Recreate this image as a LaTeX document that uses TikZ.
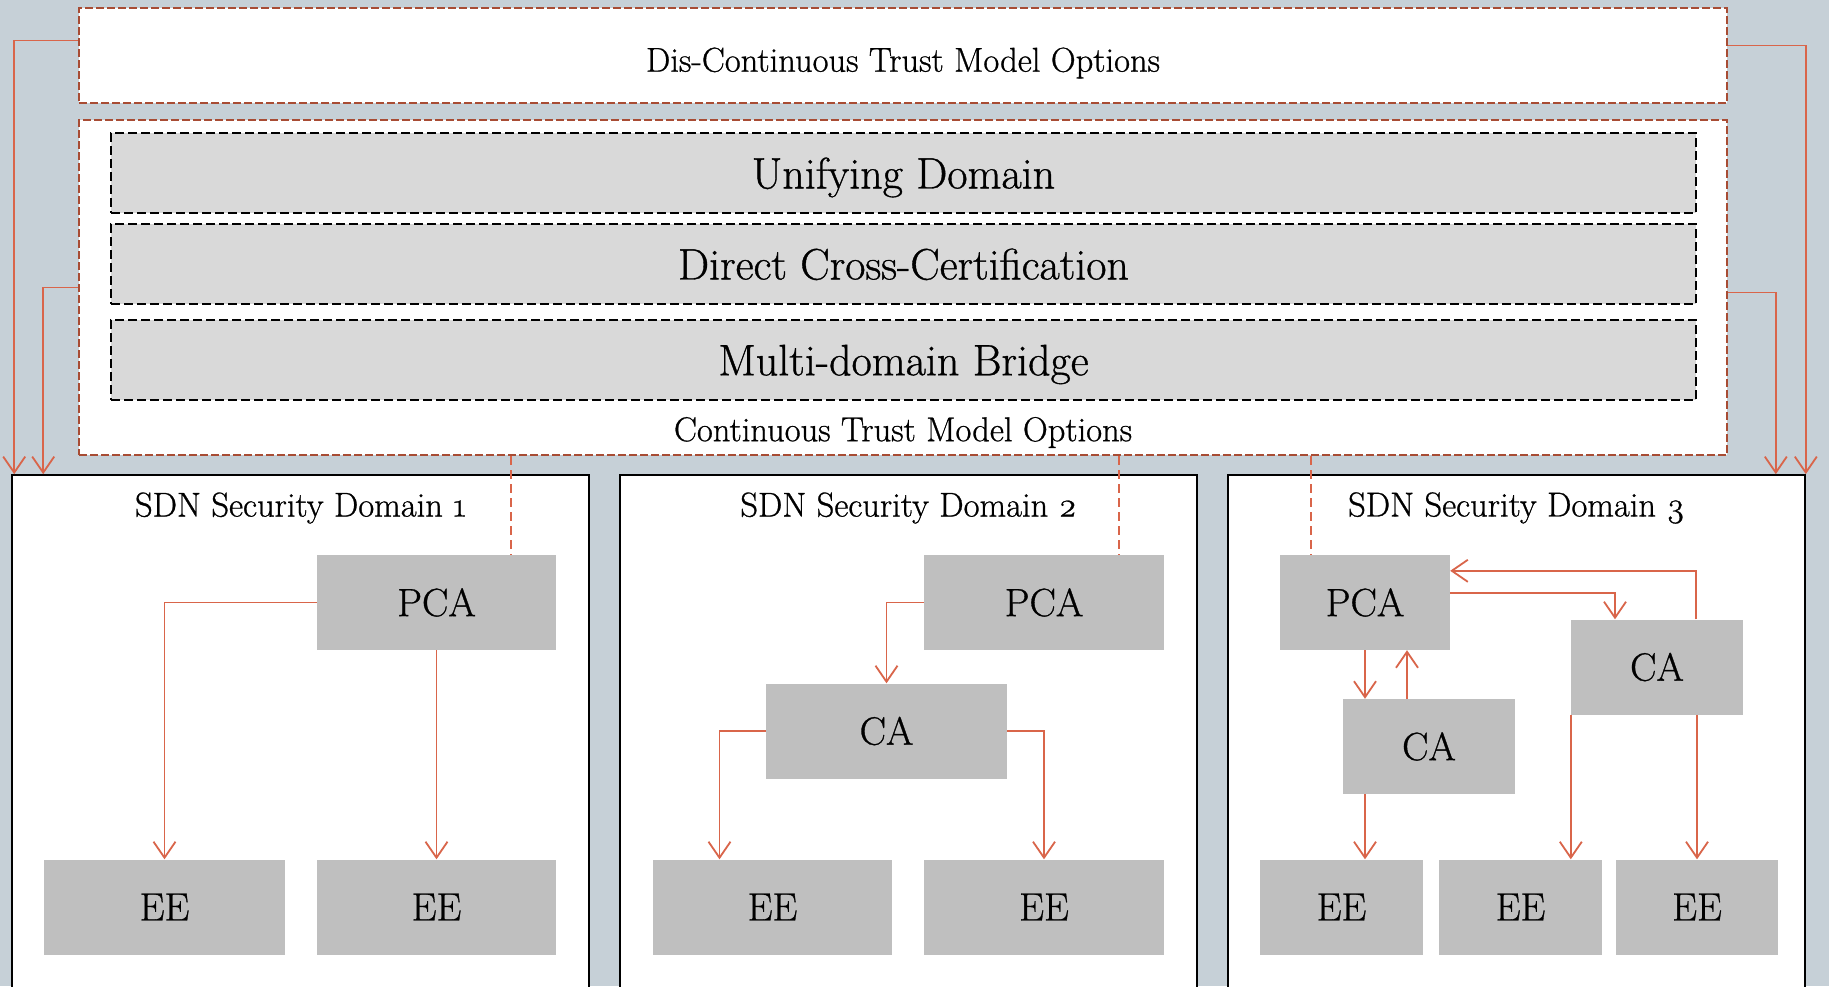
\documentclass[tikz,border=0pt]{standalone}
\usepackage{fontspec}
\setmainfont{Latin Modern Roman}[FakeBold=0.8]
\newfontfamily\oldnum{Latin Modern Roman}[Numbers=OldStyle, FakeBold=0.8]
\usepackage{tikz}
\usetikzlibrary{arrows.meta, calc}

\definecolor{bgblue}{RGB}{198,208,215}
\definecolor{boxred}{RGB}{168,76,52}
\definecolor{linkred}{RGB}{217,101,74}
\definecolor{layergrey}{RGB}{217,217,217}
\definecolor{nodegrey}{RGB}{191,191,191}

\tikzset{
    optbox/.style={draw=boxred, line width=2pt, dash pattern=on 8pt off 3pt, fill=white, inner sep=0pt, minimum width=1648pt},
    layer/.style={draw=black, line width=2pt, dash pattern=on 9pt off 4pt, fill=layergrey, inner sep=0pt, text depth=0pt,
        minimum width=1585pt, minimum height=80pt, font=\fontsize{44}{48}\selectfont},
    sdnbox/.style={draw=black, line width=1.6pt, fill=white, inner sep=0pt, minimum width=577pt, minimum height=560pt},
    cert/.style={fill=nodegrey, inner sep=0pt, minimum height=95pt, font=\fontsize{39.5}{44}\selectfont},
    caption/.style={inner sep=0pt, font=\fontsize{34.5}{38}\selectfont},
    link/.style={draw=linkred, line width=1.8pt, -{Straight Barb[length=16pt,width=22pt]}},
    dlink/.style={draw=linkred, line width=1.8pt, dash pattern=on 9pt off 5pt}
}

\begin{document}
\begin{tikzpicture}[x=1pt, y=-1pt]
    \fill[bgblue] (0,0) rectangle (1829,986);
    \useasboundingbox (0,0) rectangle (1829,986);
    \clip (0,0) rectangle (1829,986);

    \node[optbox, minimum height=95pt] (dis) at (903,55.5) {};
    \node[caption] (distext) at (903,63) {Dis-Continuous Trust Model Options};
    \node[optbox, minimum height=335pt] (cont) at (903,287.5) {};
    \node[layer] (unify) at (903.5,173) {Unifying Domain};
    \node[layer] (cross) at (903.5,264) {Direct Cross-Certification};
    \node[layer] (bridge) at (903.5,360) {Multi-domain Bridge};
    \node[caption] (conttext) at (903,432.5) {Continuous Trust Model Options};

    \node[sdnbox] (dom1) at (300.5,755) {};
    \node[sdnbox] (dom2) at (908.5,755) {};
    \node[sdnbox] (dom3) at (1516.5,755) {};
    \node[caption] (title1) at (300.5,508) {SDN Security Domain {\oldnum 1}};
    \node[caption] (title2) at (908.5,508) {SDN Security Domain {\oldnum 2}};
    \node[caption] (title3) at (1516.5,508) {SDN Security Domain {\oldnum 3}};

    \node[cert, minimum width=239pt] (pca1) at (436.5,602.5) {PCA};
    \node[cert, minimum width=241pt] (ee1) at (164.5,907) {EE};
    \node[cert, minimum width=239pt] (ee2) at (436.5,907) {EE};

    \node[cert, minimum width=240pt] (pca2) at (1044,602.5) {PCA};
    \node[cert, minimum width=241pt] (ca2) at (886.5,731) {CA};
    \node[cert, minimum width=239pt] (ee3) at (772.5,907) {EE};
    \node[cert, minimum width=240pt] (ee4) at (1044,907) {EE};

    \node[cert, minimum width=170pt] (pca3) at (1365,602.5) {PCA};
    \node[cert, minimum width=172pt] (ca3r) at (1657,667) {CA};
    \node[cert, minimum width=172pt] (ca3l) at (1429,746.5) {CA};
    \node[cert, minimum width=163pt] (ee5) at (1341.5,907) {EE};
    \node[cert, minimum width=163pt] (ee6) at (1520.5,907) {EE};
    \node[cert, minimum width=162pt] (ee7) at (1697,907) {EE};

    \draw[link] ([yshift=15pt]dis.west) -| ([xshift=3pt]dom1.north west);
    \draw[link] (cont.west) -| ([xshift=32pt]dom1.north west);
    \draw[link] ([yshift=10pt]dis.east) -| (dom3.north east);
    \draw[link] ([yshift=-5pt]cont.east) -| ([xshift=-30pt]dom3.north east);

    \draw[dlink] ([xshift=-45pt]pca1.north east |- cont.south) -- ([xshift=-45pt]pca1.north east);
    \draw[dlink] ([xshift=-45pt]pca2.north east |- cont.south) -- ([xshift=-45pt]pca2.north east);
    \draw[dlink] ([xshift=31pt]pca3.north west |- cont.south) -- ([xshift=31pt]pca3.north west);

    \draw[link] (pca1.west) -| (ee1.north);
    \draw[link] (pca1.south) -- (ee2.north);

    \draw[link] (pca2.west) -| (ca2.north);
    \draw[link] (ca2.west) -| ([xshift=-53pt]ee3.north);
    \draw[link] (ca2.east) -| (ee4.north);

    \draw[link] ([yshift=-38pt]pca3.north east) -| ([xshift=-42pt]ca3r.north);
    \draw[link] ([xshift=39pt]ca3r.north) |- ([yshift=-16pt]pca3.north east);
    \draw[link] (pca3.south) -- (pca3.south |- ca3l.north);
    \draw[link] ([xshift=-22pt]ca3l.north) -- ([xshift=-22pt]ca3l.north |- pca3.south);
    \draw[link] (pca3.south |- ca3l.south) -- (pca3.south |- ee5.north);
    \draw[link] (ca3r.south west) -- (ca3r.south west |- ee6.north);
    \draw[link] (ee7.north |- ca3r.south) -- (ee7.north);
\end{tikzpicture}
\end{document}
